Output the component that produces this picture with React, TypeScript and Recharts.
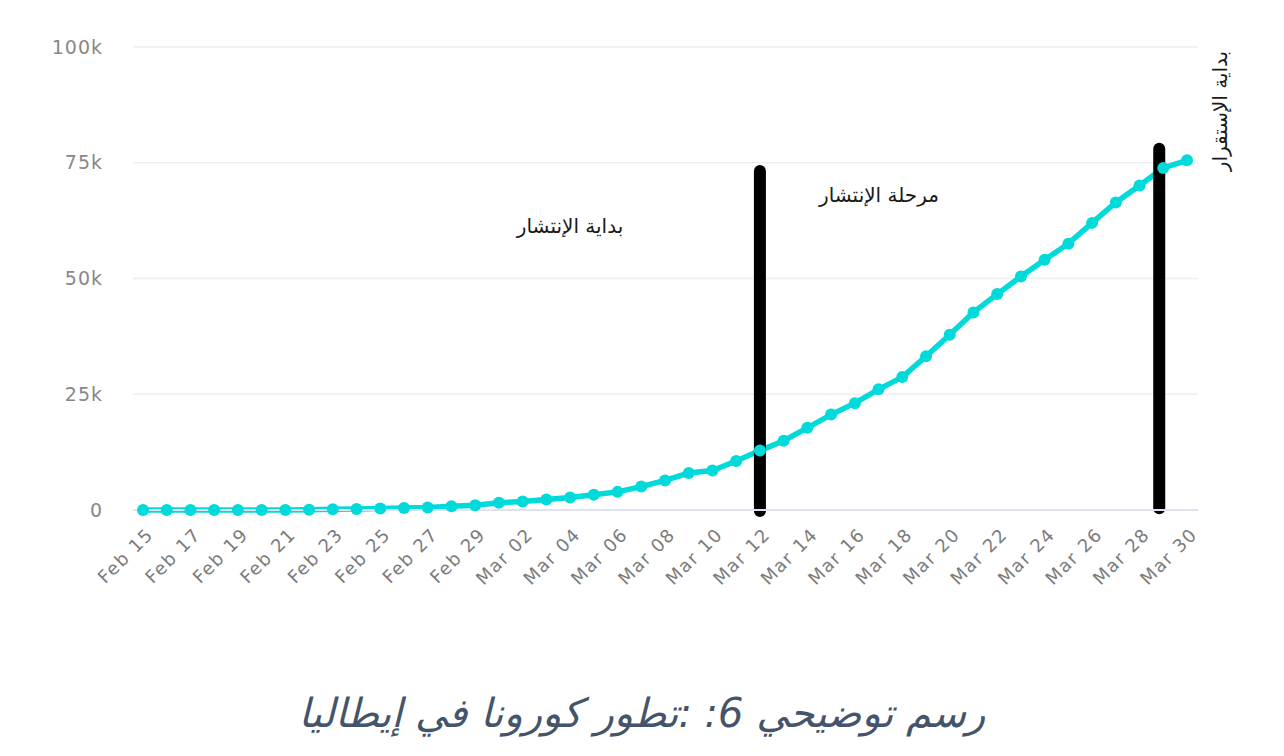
import React from 'react';
import { LineChart, Line, XAxis, YAxis, CartesianGrid, ReferenceLine } from 'recharts';

const dates: string[] = [
  'Feb 15', 'Feb 16', 'Feb 17', 'Feb 18', 'Feb 19', 'Feb 20', 'Feb 21', 'Feb 22', 'Feb 23', 'Feb 24',
  'Feb 25', 'Feb 26', 'Feb 27', 'Feb 28', 'Feb 29',
  'Mar 01', 'Mar 02', 'Mar 03', 'Mar 04', 'Mar 05', 'Mar 06', 'Mar 07', 'Mar 08', 'Mar 09', 'Mar 10',
  'Mar 11', 'Mar 12', 'Mar 13', 'Mar 14', 'Mar 15', 'Mar 16', 'Mar 17', 'Mar 18', 'Mar 19', 'Mar 20',
  'Mar 21', 'Mar 22', 'Mar 23', 'Mar 24', 'Mar 25', 'Mar 26', 'Mar 27', 'Mar 28', 'Mar 29', 'Mar 30',
];

const cases: number[] = [
  3, 3, 3, 3, 3, 3, 17, 76, 150, 221, 311, 453, 528, 821, 1049,
  1577, 1835, 2263, 2706, 3296, 3916, 5061, 6387, 7985, 8514,
  10590, 12839, 14955, 17750, 20603, 23073, 26062, 28710, 33190, 37860,
  42681, 46638, 50418, 54030, 57521, 62013, 66414, 70065, 73880, 75528,
];

const yTicks: number[] = [0, 25000, 50000, 75000, 100000];
const xTicks: number[] = dates.map((_, i) => i).filter((i) => i % 2 === 0);

// phase boundaries (day index, top value, bottom value)
const startMarkerDay = 26;
const startMarkerRange: [number, number] = [73200, -200];
const endMarkerDay = 42.83;
const endMarkerRange: [number, number] = [78000, 400];

const phaseLabels: string[] = ['بداية الإنتشار', 'مرحلة الإنتشار', 'بداية الإستقرار'];
const captionText = 'رسم توضيحي 6: :تطور كورونا في إيطاليا';

const data = dates.map((d, i) => ({ day: i, label: d, cases: cases[i] }));

const XTick = (props: any) => {
  const { x, y, payload } = props;
  return (
    <g transform={`translate(${x + 7},${y + 13})`}>
      <text
        x={0}
        y={0}
        dy="0.35em"
        textAnchor="end"
        transform="rotate(-45)"
        fill="#7c7c7c"
        fontSize={18}
        letterSpacing={1.5}
        fontFamily="'DejaVu Sans', sans-serif"
      >
        {dates[payload.value]}
      </text>
    </g>
  );
};

const fmtY = (v: number) => (v === 0 ? '0' : `${v / 1000}k`);

const annot: React.CSSProperties = {
  position: 'absolute',
  textAlign: 'center',
  direction: 'rtl',
  fontFamily: "'DejaVu Sans', sans-serif",
  fontSize: 20,
  color: '#1a1a1a',
  whiteSpace: 'nowrap',
};

export default function App() {
  return (
    <div style={{ position: 'absolute', left: 0, top: 0, width: 1284, height: 756, background: '#fff', overflow: 'hidden' }}>
      <LineChart
        width={1284}
        height={620}
        data={data}
        margin={{ top: 47, right: 86, bottom: 10, left: 0 }}
      >
        <CartesianGrid vertical={false} stroke="#eceef2" strokeWidth={1.5} />
        <XAxis
          dataKey="day"
          type="number"
          domain={[0, 44]}
          ticks={xTicks}
          interval={0}
          padding={{ left: 10, right: 11 }}
          tick={<XTick />}
          tickLine={false}
          axisLine={{ stroke: '#dfe3ee', strokeWidth: 2 }}
          height={100}
        />
        <YAxis
          domain={[0, 100000]}
          ticks={yTicks}
          tickFormatter={fmtY}
          width={133}
          tickLine={false}
          axisLine={false}
          tickSize={0}
          tickMargin={30}
          tick={{ fill: '#888888', fontSize: 19, letterSpacing: 1, fontFamily: "'DejaVu Sans', sans-serif" }}
        />
        <Line
          type="linear"
          dataKey="cases"
          stroke="#00dada"
          strokeWidth={5.5}
          dot={{ r: 6, fill: '#00dada', stroke: 'none' }}
          activeDot={false}
          isAnimationActive={false}
        />
        <ReferenceLine
          segment={[{ x: startMarkerDay, y: startMarkerRange[0] }, { x: startMarkerDay, y: startMarkerRange[1] }]}
          stroke="#000"
          strokeWidth={12}
          strokeLinecap="round"
          ifOverflow="visible"
        />
        <ReferenceLine
          segment={[{ x: endMarkerDay, y: endMarkerRange[0] }, { x: endMarkerDay, y: endMarkerRange[1] }]}
          stroke="#000"
          strokeWidth={12}
          strokeLinecap="round"
          ifOverflow="visible"
        />
      </LineChart>
      <div style={{ ...annot, left: 470, top: 214, width: 200 }}>{phaseLabels[0]}</div>
      <div style={{ ...annot, left: 779, top: 183, width: 200 }}>{phaseLabels[1]}</div>
      <div style={{ position: 'absolute', left: 1220, top: 112, width: 0, height: 0 }}>
        <div style={{ ...annot, left: -100, top: -13, width: 200, transform: 'rotate(-90deg)' }}>
          {phaseLabels[2]}
        </div>
      </div>
      <div style={{ position: 'absolute', left: 0, top: 690, width: 1284, textAlign: 'center', direction: 'rtl', fontFamily: "'DejaVu Sans', sans-serif", fontStyle: 'italic', fontSize: 40, color: '#44546a', whiteSpace: 'nowrap' }}>
        {captionText}
      </div>
    </div>
  );
}
